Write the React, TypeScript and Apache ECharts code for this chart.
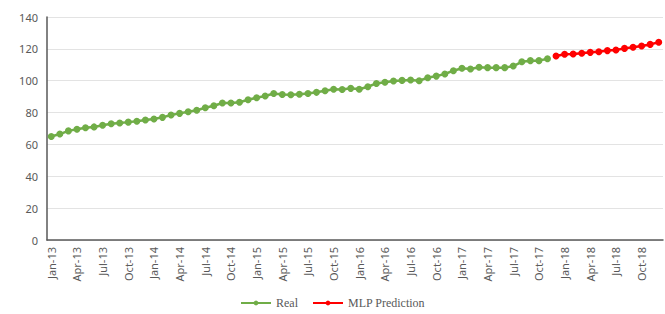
import React, { useEffect, useRef } from "react";
import * as echarts from "echarts";

const months = ["Jan", "Feb", "Mar", "Apr", "May", "Jun", "Jul", "Aug", "Sep", "Oct", "Nov", "Dec"];
const years = ["13", "14", "15", "16", "17", "18"];
const categories: string[] = [];
years.forEach((y) => months.forEach((m) => categories.push(`${m}-${y}`)));

const realValues: number[] = [
  65, 66.5, 68.5, 69.5, 70.5, 71, 72, 73, 73.5, 74, 74.5, 75.3,
  76, 77, 78.5, 79.5, 80.5, 81.5, 83, 84.3, 86, 86, 86.5, 88,
  89.3, 90.4, 92, 91.4, 91.2, 91.5, 92, 92.7, 93.7, 94.6, 94.5, 95.2,
  94.6, 96.2, 98.3, 99, 99.8, 100.2, 100.4, 100, 101.9, 102.9, 104.2, 106.3,
  107.8, 107.3, 108.5, 108.2, 108.2, 108.2, 109.2, 111.9, 112.6, 112.6, 113.8,
];

const predValues: number[] = [
  115.5, 116.6, 116.8, 117.2, 117.8, 118.2, 118.9, 119.3, 120.3, 121, 121.8, 122.8, 124.1,
];

const yTicks = { min: 0, max: 140, interval: 20 };

export default function App() {
  const ref = useRef<HTMLDivElement>(null);
  useEffect(() => {
    if (!ref.current) return;
    const chart = echarts.init(ref.current, undefined, { renderer: "svg" });
    const realData = categories.map((_, i) => (i < realValues.length ? realValues[i] : null));
    const predStart = categories.length - predValues.length;
    const predData = categories.map((_, i) => (i >= predStart ? predValues[i - predStart] : null));
    chart.setOption({
      animation: false,
      backgroundColor: "#ffffff",
      grid: { left: 47, right: 2, top: 17, bottom: 74, containLabel: false },
      legend: {
        bottom: 0,
        left: "center",
        itemWidth: 30,
        itemHeight: 6,
        itemGap: 14,
        textStyle: { fontFamily: "Liberation Serif", fontSize: 12, color: "#595959" },
        data: ["Real", "MLP Prediction"],
      },
      xAxis: {
        type: "category",
        data: categories,
        boundaryGap: true,
        axisLine: { show: true, lineStyle: { color: "#595959", width: 1.5 } },
        axisTick: { show: false },
        axisLabel: {
          interval: 2,
          rotate: 90,
          fontFamily: "Noto Sans",
          fontSize: 11,
          color: "#595959",
          margin: 7,
        },
        splitLine: { show: false },
      },
      yAxis: {
        type: "value",
        min: yTicks.min,
        max: yTicks.max,
        interval: yTicks.interval,
        axisLine: { show: true, lineStyle: { color: "#595959", width: 1.5 } },
        axisTick: { show: false },
        axisLabel: { fontFamily: "Noto Sans", fontSize: 11, color: "#595959", margin: 9 },
        splitLine: { show: true, lineStyle: { color: "#e3e3e3", width: 1 } },
      },
      series: [
        {
          name: "Real",
          type: "line",
          data: realData,
          symbol: "circle",
          symbolSize: 7,
          showAllSymbol: true,
          itemStyle: { color: "#70ad47" },
          lineStyle: { color: "#70ad47", width: 2.5 },
        },
        {
          name: "MLP Prediction",
          type: "line",
          data: predData,
          symbol: "circle",
          symbolSize: 7,
          showAllSymbol: true,
          itemStyle: { color: "#ff0000" },
          lineStyle: { color: "#ff0000", width: 2.5 },
        },
      ],
    });
    return () => chart.dispose();
  }, []);
  return <div ref={ref} style={{ width: 665, height: 314, position: "absolute", left: 0, top: 0 }} />;
}
